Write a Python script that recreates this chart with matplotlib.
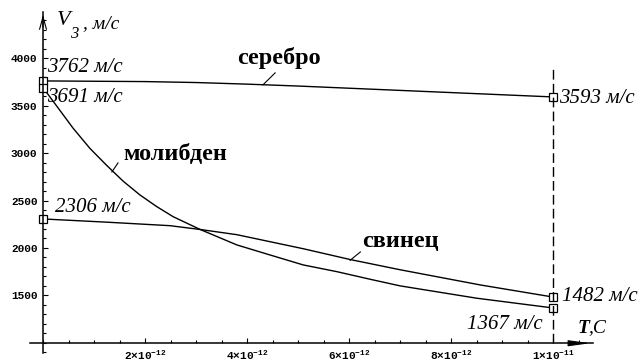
import matplotlib
matplotlib.use("Agg")
import matplotlib.pyplot as plt
from matplotlib.ticker import MultipleLocator

# -----------------------------
# Data (time in units of 1e-12 s, speed in m/s)
# -----------------------------

t_silver = [0, 2, 3, 4, 5, 6, 7, 8, 9, 10]
v_silver = [3762, 3755, 3745, 3728, 3708, 3685, 3662, 3639, 3616, 3593]

t_lead = [0, 1.25, 2.49, 3.08, 3.8, 5.1, 6.02, 7.0, 8.57, 10]
v_lead = [2306, 2272, 2235, 2195, 2140, 1992, 1878, 1770, 1610, 1482]

t_moly = [0, 0.3, 0.59, 0.92, 1.25, 1.57, 1.9, 2.23, 2.55, 3.08, 3.8,
          4.45, 5.1, 5.76, 6.41, 7.0, 8.5, 10]
v_moly = [3691, 3474, 3263, 3050, 2870, 2705, 2559, 2436, 2330, 2195, 2032,
          1926, 1821, 1750, 1670, 1600, 1470, 1367]

x_ticks = [2, 4, 6, 8, 10]
x_tick_labels = [r"$2{\times}10^{-12}$", r"$4{\times}10^{-12}$", r"$6{\times}10^{-12}$",
                 r"$8{\times}10^{-12}$", r"$1{\times}10^{-11}$"]
y_ticks = [1500, 2000, 2500, 3000, 3500, 4000]

T_END = 10
AXIS_Y = 995

plt.rcParams["mathtext.fontset"] = "custom"
plt.rcParams["mathtext.rm"] = "Liberation Mono:bold"

SERIF = "Liberation Serif"
LINE = dict(color="black", lw=1.0)
SQ = dict(marker="s", ms=6, mfc="white", mec="black", mew=0.9, markevery=[0, -1])

fig = plt.figure(figsize=(6.4, 3.64), dpi=100)
ax = fig.add_axes([30 / 640, 11 / 364, (593 - 30) / 640, (353 - 12) / 364])
ax.set_xlim(-0.255, 10.78)
ax.set_ylim(892, 4489)

# curves
ax.plot(t_silver, v_silver, **LINE, **SQ)
ax.plot(t_lead, v_lead, **LINE, **SQ)
ax.plot(t_moly, v_moly, **LINE, **SQ)
ax.plot([T_END, T_END], [AXIS_Y, 3899], color="black", lw=1.0, dashes=(7, 3))

# axes through origin
for side in ["top", "right"]:
    ax.spines[side].set_visible(False)
ax.spines["left"].set_position(("data", 0))
ax.spines["bottom"].set_position(("data", AXIS_Y))
ax.spines["left"].set_linewidth(1.1)
ax.spines["bottom"].set_linewidth(1.1)
ax.patch.set_visible(False)

ax.annotate("", xy=(0, 4489), xytext=(0, 4300),
            arrowprops=dict(arrowstyle="->,head_length=0.9,head_width=0.25", lw=0.8, color="black"))
ax.annotate("", xy=(10.78, AXIS_Y), xytext=(10.3, AXIS_Y),
            arrowprops=dict(arrowstyle="-|>,head_length=1.3,head_width=0.18", lw=0.8, color="black"))

ax.set_xticks(x_ticks)
ax.set_xticklabels(x_tick_labels, fontsize=8)
ax.xaxis.set_minor_locator(MultipleLocator(0.5))
ax.set_yticks(y_ticks)
ax.set_yticklabels([str(v) for v in y_ticks], family="Liberation Mono", weight="bold", fontsize=8)
ax.yaxis.set_minor_locator(MultipleLocator(100))
ax.tick_params(which="both", direction="in", width=0.8)
ax.tick_params(which="major", length=3.5)
ax.tick_params(which="minor", length=2.5)
ax.tick_params(axis="x", pad=4)
ax.tick_params(axis="y", pad=4)

# value labels
val = dict(family=SERIF, style="italic", fontsize=15, va="center")
ax.text(0.08, 3899, "3762 м/с", **val)
ax.text(0.08, 3583, "3691 м/с", **val)
ax.text(0.24, 2432, "2306 м/с", **val)
ax.text(10.12, 3572, "3593 м/с", **val)
ax.text(10.18, 1483, "1482 м/с", **val)
ax.text(9.8, 1188, "1367 м/с", ha="right", **val)

# material names with leader lines
name = dict(family=SERIF, weight="bold", fontsize=17.5, va="center")
ax.text(3.8, 4004, "серебро", **name)
ax.plot([4.31, 4.55], [3720, 3847], color="black", lw=0.8)
ax.text(1.57, 2982, "молибден", **name)
ax.plot([1.35, 1.47], [2802, 2897], color="black", lw=0.8)
ax.text(6.25, 2063, "свинец", **name)
ax.plot([6.02, 6.22], [1870, 1958], color="black", lw=0.8)

# axis names
ax.text(0.27, 4395, "V", family=SERIF, style="italic", fontsize=16, va="center")
ax.text(0.53, 4262, "3", family=SERIF, style="italic", fontsize=12, va="center")
ax.text(0.78, 4363, ", м/с", family=SERIF, style="italic", fontsize=14, va="center")
ax.text(10.47, 1155, "T", family=SERIF, style="italic", weight="bold", fontsize=14, va="center")
ax.text(10.68, 1155, ",C", family=SERIF, style="italic", fontsize=14, va="center")

fig.savefig("out.png", dpi=100)
